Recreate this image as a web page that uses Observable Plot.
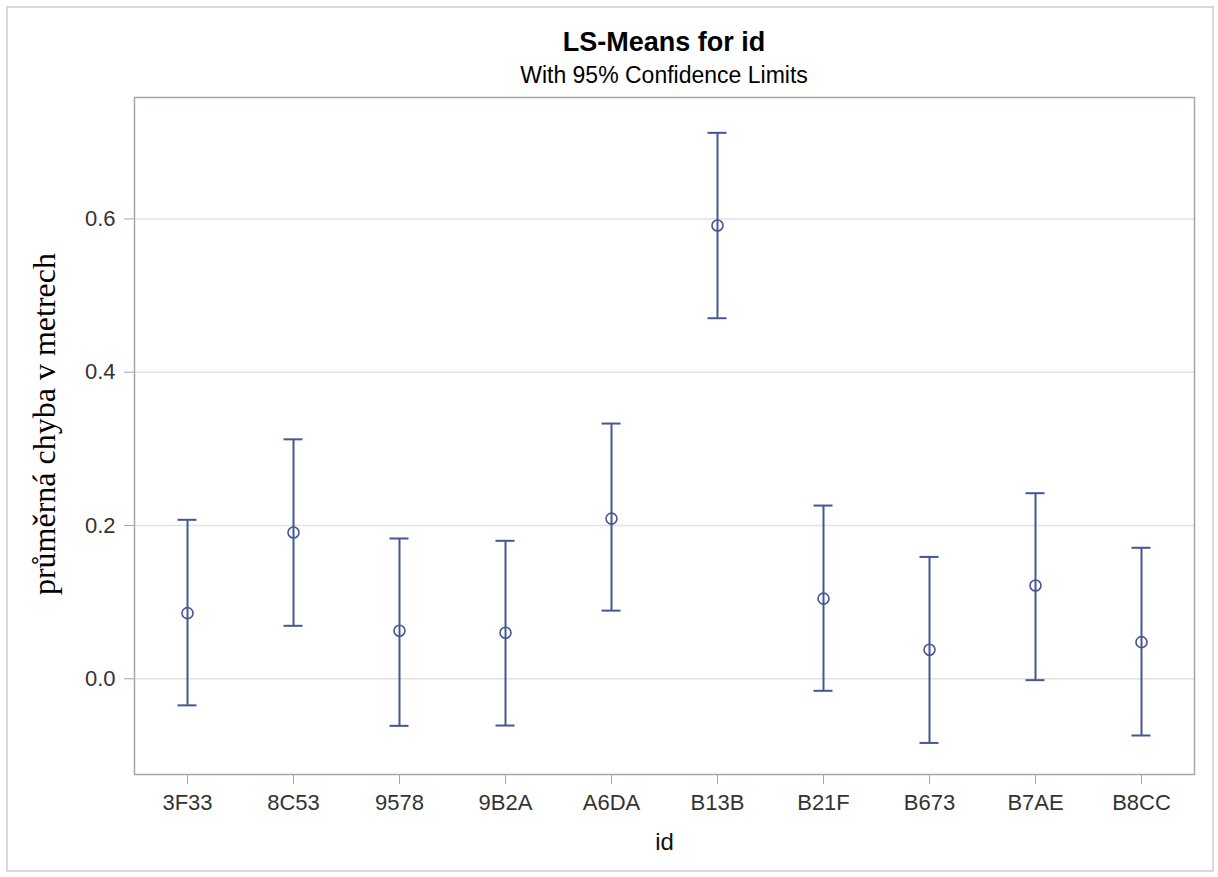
<!DOCTYPE html>
<html>
<head>
<meta charset="utf-8">
<script src="https://cdn.jsdelivr.net/npm/d3@7"></script>
<script src="https://cdn.jsdelivr.net/npm/@observablehq/plot@0.6"></script>
<style>
  body { margin:0; background:#fff; width:1218px; height:877px; position:relative; overflow:hidden;
         font-family:"Liberation Sans", Arial, sans-serif; }
  #border { position:absolute; left:6px; top:6px; width:1204px; height:862px; border:2px solid #d9d9d9; }
  .ttl { position:absolute; left:364px; width:600px; text-align:center; color:#000; white-space:nowrap; }
  #title { top:29px; font-size:27px; line-height:27px; font-weight:bold; }
  #subtitle { top:63.5px; font-size:23px; line-height:23px; }
  #chart { position:absolute; left:0; top:90px; }
</style>
</head>
<body>
<div id="border"></div>
<div id="title" class="ttl">LS-Means for id</div>
<div id="subtitle" class="ttl">With 95% Confidence Limits</div>
<div id="chart"></div>
<script>
// Data
const ids    = ["3F33","8C53","9578","9B2A","A6DA","B13B","B21F","B673","B7AE","B8CC"];
const means  = [0.0856, 0.1908, 0.0627, 0.0600, 0.2090, 0.5914, 0.1046, 0.0379, 0.1217, 0.0478];
const lowers = [-0.0347, 0.0691, -0.0614, -0.0610, 0.0889, 0.4704, -0.0157, -0.0837, -0.0018, -0.0740];
const uppers = [0.2074, 0.3124, 0.1830, 0.1800, 0.3330, 0.7123, 0.2260, 0.1590, 0.2421, 0.1709];
const yTicks = [0, 0.2, 0.4, 0.6];
const yLabel = "průměrná chyba v metrech";
const xLabel = "id";

const data = ids.map((id, i) => ({id, mean: means[i], lower: lowers[i], upper: uppers[i]}));
const blue = "#445694";

const chart = Plot.plot({
  width: 1218,
  height: 787,
  marginTop: 7,
  marginBottom: 103,
  marginLeft: 134,
  marginRight: 24,
  style: {fontFamily: "'Liberation Sans', Arial, sans-serif", background: "transparent", color: "#333"},
  x: {domain: ids, type: "band", padding: 0, label: null},
  y: {domain: [-0.1249, 0.7584], label: null},
  marks: [
    Plot.gridY(yTicks, {stroke: "#e2e2e2", strokeOpacity: 1, strokeWidth: 1.5}),
    Plot.frame({stroke: "#a3a6a9", strokeWidth: 1.5}),
    Plot.axisY(yTicks, {tickSize: 10, tickPadding: 9, tickFormat: d3.format(".1f"), fontSize: 22, stroke: "#a3a6a9", label: null}),
    Plot.axisX({tickSize: 10, tickPadding: 10, fontSize: 22, stroke: "#a3a6a9", label: null}),
    Plot.text([yLabel], {frameAnchor: "left", textAnchor: "middle", lineAnchor: "middle", rotate: -90, dx: -90, dy: -12, fontSize: 32,
                         fontFamily: "'Liberation Serif', 'Times New Roman', serif", fill: "#000"}),
    Plot.text([xLabel], {frameAnchor: "bottom", dy: 75, fontSize: 24, fill: "#111"}),
    Plot.ruleX(data, {x: "id", y1: "lower", y2: "upper", stroke: blue, strokeWidth: 2}),
    Plot.tickY(data, {x: "id", y: "upper", stroke: blue, strokeWidth: 2, insetLeft: 43.5, insetRight: 43.5}),
    Plot.tickY(data, {x: "id", y: "lower", stroke: blue, strokeWidth: 2, insetLeft: 43.5, insetRight: 43.5}),
    Plot.dot(data, {x: "id", y: "mean", r: 5.5, stroke: blue, strokeWidth: 1.6, fill: "none"})
  ]
});
document.getElementById("chart").appendChild(chart);
</script>
</body>
</html>
